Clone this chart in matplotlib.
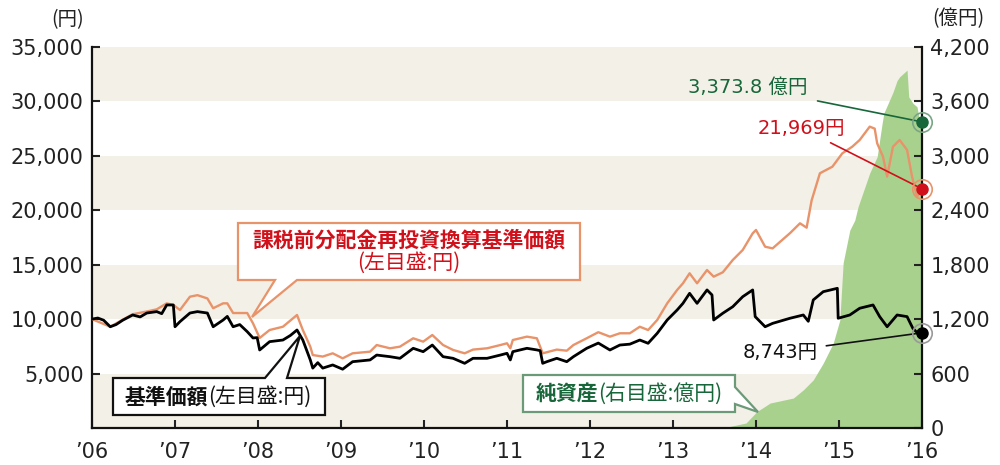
import matplotlib.pyplot as plt
from matplotlib.patches import Polygon
from matplotlib.ticker import FuncFormatter

plt.rcParams['font.family'] = ['Noto Sans CJK JP', 'DejaVu Sans']
NUM_FONT = ['DejaVu Sans', 'Noto Sans CJK JP']

# 基準価額 (円), time in decimal years
nav_t = [2006.00, 2006.07, 2006.14, 2006.22, 2006.29, 2006.37, 2006.49, 2006.58, 2006.66, 2006.78,
         2006.84, 2006.90, 2006.98, 2007.00, 2007.06, 2007.18, 2007.27, 2007.39, 2007.46, 2007.58,
         2007.63, 2007.70, 2007.78, 2007.87, 2007.94, 2007.99, 2008.02, 2008.14, 2008.30, 2008.39,
         2008.47, 2008.54, 2008.63, 2008.66, 2008.72, 2008.78, 2008.90, 2009.02, 2009.14, 2009.35,
         2009.43, 2009.59, 2009.71, 2009.87, 2009.99, 2010.10, 2010.23, 2010.35, 2010.49, 2010.59,
         2010.76, 2010.92, 2011.00, 2011.04, 2011.07, 2011.24, 2011.36, 2011.40, 2011.43, 2011.48,
         2011.60, 2011.72, 2011.80, 2011.96, 2012.10, 2012.24, 2012.36, 2012.48, 2012.60, 2012.70,
         2012.81, 2012.93, 2013.05, 2013.12, 2013.20, 2013.29, 2013.41, 2013.47, 2013.49, 2013.60,
         2013.72, 2013.84, 2013.96, 2013.99, 2014.11, 2014.20, 2014.41, 2014.57, 2014.63, 2014.69,
         2014.81, 2014.98, 2014.99, 2015.13, 2015.25, 2015.41, 2015.49, 2015.58, 2015.70, 2015.82,
         2015.89, 2015.95, 2016.00]
nav = [10000, 10100, 9900, 9300, 9500, 9900, 10380, 10200, 10560, 10690,
       10500, 11300, 11300, 9300, 9770, 10560, 10690, 10560, 9300, 9920,
       10250, 9300, 9500, 8850, 8270, 8300, 7165, 7930, 8080, 8500,
       9000, 8080, 6250, 5500, 6000, 5500, 5790, 5400, 6090, 6250,
       6700, 6550, 6400, 7320, 7010, 7620, 6550, 6400, 5940, 6400,
       6400, 6700, 6860, 6250, 7010, 7320, 7170, 7100, 5940, 6090,
       6400, 6090, 6550, 7320, 7800, 7165, 7620, 7700, 8080, 7780,
       8700, 9920, 10840, 11450, 12370, 11450, 12680, 12220, 9920, 10540,
       11140, 12060, 12680, 10230, 9300, 9610, 10080, 10380, 9800, 11760,
       12520, 12830, 10080, 10380, 11000, 11300, 10230, 9300, 10380, 10230,
       9150, 8700, 8743]

# 課税前分配金再投資換算基準価額 (円)
adj_t = [2006.00, 2006.22, 2006.37, 2006.49, 2006.66, 2006.78, 2006.90, 2006.98, 2007.06, 2007.18,
         2007.27, 2007.39, 2007.46, 2007.58, 2007.63, 2007.70, 2007.87, 2007.94, 2008.02, 2008.14,
         2008.30, 2008.47, 2008.54, 2008.63, 2008.66, 2008.78, 2008.90, 2009.02, 2009.14, 2009.35,
         2009.43, 2009.59, 2009.71, 2009.87, 2009.99, 2010.10, 2010.23, 2010.35, 2010.49, 2010.59,
         2010.76, 2010.92, 2011.00, 2011.04, 2011.07, 2011.24, 2011.36, 2011.43, 2011.60, 2011.72,
         2011.80, 2011.96, 2012.10, 2012.24, 2012.36, 2012.48, 2012.60, 2012.70, 2012.81, 2012.93,
         2013.05, 2013.12, 2013.20, 2013.29, 2013.41, 2013.49, 2013.60, 2013.72, 2013.84, 2013.96,
         2014.00, 2014.11, 2014.20, 2014.41, 2014.53, 2014.61, 2014.67, 2014.77, 2014.92, 2015.04,
         2015.16, 2015.25, 2015.37, 2015.43, 2015.46, 2015.53, 2015.58, 2015.65, 2015.73, 2015.82,
         2015.88, 2015.94, 2016.00]
adj = [10000, 9300, 9950, 10450, 10700, 10900, 11450, 11300, 10840, 12060,
       12200, 11900, 11000, 11450, 11450, 10560, 10560, 9610, 8270, 9000,
       9300, 10380, 9000, 7470, 6700, 6560, 6860, 6400, 6860, 7010,
       7620, 7320, 7470, 8240, 7930, 8540, 7620, 7170, 6860, 7200,
       7320, 7620, 7780, 7320, 8080, 8390, 8240, 6860, 7200, 7100,
       7620, 8240, 8800, 8390, 8700, 8700, 9300, 9000, 9920, 11450,
       12680, 13290, 14210, 13290, 14510, 13900, 14300, 15430, 16350, 17880,
       18190, 16650, 16500, 17900, 18800, 18400, 20900, 23400, 24000, 25230,
       25840, 26460, 27680, 27500, 26150, 24920, 23090, 25840, 26460, 25540,
       23090, 21250, 21969]

# 純資産 (億円)
aum_t = [2006.00, 2013.40, 2013.65, 2013.88, 2014.01, 2014.17, 2014.45, 2014.57, 2014.69, 2014.81,
         2014.93, 2015.01, 2015.05, 2015.13, 2015.19, 2015.23, 2015.34, 2015.37, 2015.46, 2015.52,
         2015.54, 2015.65, 2015.70, 2015.73, 2015.82, 2015.84, 2015.89, 2015.94, 2015.98, 2016.00]
aum = [0, 0, 10, 55, 180, 275, 330, 420, 530, 715,
       935, 1190, 1820, 2180, 2290, 2440, 2730, 2810, 2990, 3360,
       3470, 3700, 3830, 3870, 3945, 3650, 3580, 3540, 3340, 3373.8]

years = list(range(2006, 2017))
year_labels = ["’06", "’07", "’08", "’09", "’10", "’11", "’12", "’13", "’14", "’15", "’16"]
left_ticks = [5000, 10000, 15000, 20000, 25000, 30000, 35000]
right_ticks = [0, 600, 1200, 1800, 2400, 3000, 3600, 4200]

c_orange = '#e8936a'
c_red = '#d0111b'
c_green = '#a9d18e'
c_dkgreen = '#17673a'
c_band = '#f3f0e7'
c_text = '#222222'

fig = plt.figure(figsize=(10, 4.65), dpi=100)
ax2 = fig.add_axes([0.092, 0.0796, 0.83, 0.8194])
ax1 = ax2.twinx()
ax1.yaxis.tick_left()
ax2.yaxis.tick_right()
ax1.set_zorder(ax2.get_zorder() + 1)
ax1.patch.set_visible(False)

# bands (right-axis units: 600 = 5,000円)
for lo in [0, 1200, 2400, 3600]:
    ax2.axhspan(lo, lo + 600, color=c_band, lw=0, zorder=0)

ax2.fill_between(aum_t, aum, 0, color=c_green, lw=0, zorder=1)
ax1.plot(adj_t, adj, color=c_orange, lw=1.7, zorder=3)
ax1.plot(nav_t, nav, color='black', lw=2.0, zorder=4)

ax2.set_xlim(2006, 2016)
ax1.set_ylim(0, 35000)
ax2.set_ylim(0, 4200)

fmt = FuncFormatter(lambda v, p: f'{int(v):,}')
ax1.set_yticks(left_ticks)
ax1.yaxis.set_major_formatter(fmt)
ax2.set_yticks(right_ticks)
ax2.yaxis.set_major_formatter(fmt)
ax2.set_xticks(years)
ax2.set_xticklabels(year_labels)

for a in (ax1, ax2):
    a.tick_params(direction='in', length=6, width=1.5, labelsize=15, colors=c_text, pad=6)
    for s in a.spines.values():
        s.set_visible(False)
    for lab in a.get_xticklabels() + a.get_yticklabels():
        lab.set_family(NUM_FONT)
ax2.tick_params(axis='x', pad=10)
ax2.spines['bottom'].set_visible(True)
ax2.spines['right'].set_visible(True)
ax1.spines['left'].set_visible(True)
for s in (ax1.spines['left'], ax2.spines['bottom'], ax2.spines['right']):
    s.set_linewidth(1.6)
    s.set_color('#111111')
ax2.spines['bottom'].set_zorder(5)

fig.text(0.068, 1 - 20 / 465, '(円)', fontsize=14, ha='center', va='center', color=c_text)
fig.text(0.958, 1 - 19 / 465, '(億円)', fontsize=14, ha='center', va='center', color=c_text)


def px(x, y):
    return (x / 1000, 1 - y / 465)


def callout(pts, ec):
    poly = Polygon([px(*p) for p in pts], closed=True, transform=fig.transFigure,
                   fc='white', ec=ec, lw=1.6, zorder=5)
    fig.add_artist(poly)


callout([(238, 223), (580, 223), (580, 280), (297, 280), (252, 317), (275, 280), (238, 280)], c_orange)
fig.text(*px(409, 240), '課税前分配金再投資換算基準価額', fontsize=15, fontweight='bold',
         color=c_red, ha='center', va='center', zorder=6)
fig.text(*px(409, 263), '(左目盛:円)', fontsize=15, color=c_red, ha='center', va='center', zorder=6)

callout([(113, 378), (265, 378), (300, 336), (287, 378), (325, 378), (325, 415), (113, 415)], '#111111')
fig.text(*px(208, 397), '基準価額', fontsize=15, fontweight='bold', color='#111111',
         ha='right', va='center', zorder=6)
fig.text(*px(208, 397), '(左目盛:円)', fontsize=15, color='#111111', ha='left', va='center', zorder=6)

callout([(523, 375), (735, 375), (735, 387), (758, 412), (735, 404), (735, 412), (523, 412)], '#6b9a78')
fig.text(*px(598, 394), '純資産', fontsize=15, fontweight='bold', color=c_dkgreen,
         ha='right', va='center', zorder=6)
fig.text(*px(598, 394), '(右目盛:億円)', fontsize=15, color=c_dkgreen, ha='left', va='center', zorder=6)

# end-of-period markers and labels
ax2.plot(aum_t[-1], aum[-1], 'o', ms=14, mfc='none', mec='#7aa585', mew=1.2, clip_on=False, zorder=6)
ax2.plot(aum_t[-1], aum[-1], 'o', ms=8, color=c_dkgreen, clip_on=False, zorder=7)
ax1.plot(adj_t[-1], adj[-1], 'o', ms=14, mfc='none', mec=c_orange, mew=1.2, clip_on=False, zorder=6)
ax1.plot(adj_t[-1], adj[-1], 'o', ms=8, color=c_red, clip_on=False, zorder=7)
ax1.plot(nav_t[-1], nav[-1], 'o', ms=14, mfc='none', mec='#999999', mew=1.2, clip_on=False, zorder=6)
ax1.plot(nav_t[-1], nav[-1], 'o', ms=8, color='black', clip_on=False, zorder=7)

ax2.annotate(f'{aum[-1]:,.1f} 億円', xy=(aum_t[-1], aum[-1]), xytext=(808, 465 - 87),
             textcoords='figure pixels', ha='right', va='center', fontsize=14, color=c_dkgreen,
             family=NUM_FONT,
             arrowprops=dict(arrowstyle='-', color=c_dkgreen, lw=1.2, shrinkA=6, shrinkB=0),
             annotation_clip=False)
ax1.annotate(f'{adj[-1]:,}円', xy=(adj_t[-1], adj[-1]), xytext=(845, 465 - 128),
             textcoords='figure pixels', ha='right', va='center', fontsize=14, color=c_red,
             family=NUM_FONT,
             arrowprops=dict(arrowstyle='-', color=c_red, lw=1.2, shrinkA=4, shrinkB=0),
             annotation_clip=False)
ax1.annotate(f'{nav[-1]:,}円', xy=(nav_t[-1], nav[-1]), xytext=(818, 465 - 352),
             textcoords='figure pixels', ha='right', va='center', fontsize=14, color='#111111',
             family=NUM_FONT,
             arrowprops=dict(arrowstyle='-', color='#111111', lw=1.2, shrinkA=4, shrinkB=0),
             annotation_clip=False)

fig.savefig('out.png', dpi=100)
